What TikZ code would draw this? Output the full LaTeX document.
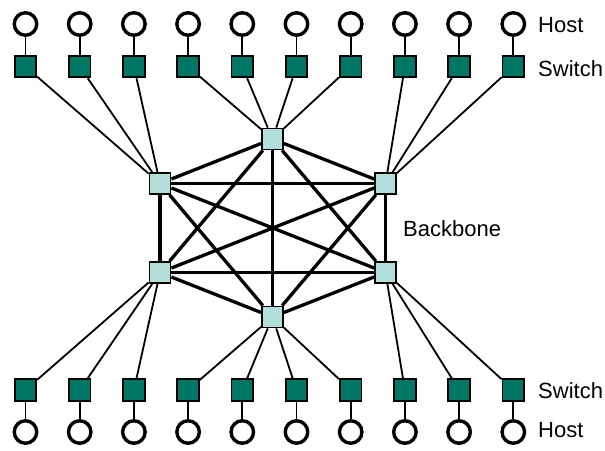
\documentclass[tikz,border=0pt]{standalone}
\usepackage{fontspec}
\setmainfont{Liberation Sans}
\definecolor{swgreen}{RGB}{0,118,100}
\definecolor{bbcyan}{RGB}{178,223,219}
\begin{document}
\begin{tikzpicture}[x=1pt,y=-1pt,
				host node/.style = {circle,draw,line width=3.4pt,fill=white,inner sep=0pt,minimum size=22.5pt},
				switch node/.style = {rectangle,draw,line width=1.8pt,fill=swgreen,inner sep=0pt,minimum size=21.5pt},
				core node/.style = {rectangle,draw,line width=1.8pt,fill=bbcyan,inner sep=0pt,minimum size=21pt},
				text node/.style = {anchor=west,inner sep=0pt,font=\fontsize{22}{26}\selectfont},
				link/.style = {line width=1.8pt},
				core link/.style = {line width=3.3pt}]
				\useasboundingbox (0,0) rectangle (605,450);
				
				% backbone
				\node[core node] (c1) at (272.5,139) {};
				\node[core node] (c2) at (160,183.5) {};
				\node[core node] (c3) at (385.5,183.5) {};
				\node[core node] (c4) at (160,272.5) {};
				\node[core node] (c5) at (385.5,272.5) {};
				\node[core node] (c6) at (272.5,317) {};
				
				\path[core link]
				(c1) edge (c2) edge (c3) edge (c4) edge (c5) edge (c6)
				(c2) edge (c3) edge (c4) edge (c5) edge (c6)
				(c3) edge (c4) edge (c5) edge (c6)
				(c4) edge (c5) edge (c6)
				(c5) edge (c6);
				
				% hosts and switches
				\foreach \i in {1,...,10} {
					\node[host node] (th\i) at ({25.5+54.2*(\i-1)},24) {};
					\node[switch node] (ts\i) at ({25.5+54.2*(\i-1)},66.5) {};
					\node[switch node] (bs\i) at ({25.5+54.2*(\i-1)},390) {};
					\node[host node] (bh\i) at ({25.5+54.2*(\i-1)},432) {};
					\draw[link] (th\i) -- (ts\i);
					\draw[link] (bs\i) -- (bh\i);
				}
				
				\foreach \i in {1,2,3} {
					\draw[link] (ts\i) -- (c2);
					\draw[link] (bs\i) -- (c4);
				}
				\foreach \i in {4,...,7} {
					\draw[link] (ts\i) -- (c1);
					\draw[link] (bs\i) -- (c6);
				}
				\foreach \i in {8,9,10} {
					\draw[link] (ts\i) -- (c3);
					\draw[link] (bs\i) -- (c5);
				}
				
				\node[text node] (t1) at (538,25.5) {Host};
				\node[text node] (t2) at (538,69) {Switch};
				\node[text node] (t3) at (403,228.5) {Backbone};
				\node[text node] (t4) at (538,390.5) {Switch};
				\node[text node] (t5) at (538,430.5) {Host};
\end{tikzpicture}
\end{document}
